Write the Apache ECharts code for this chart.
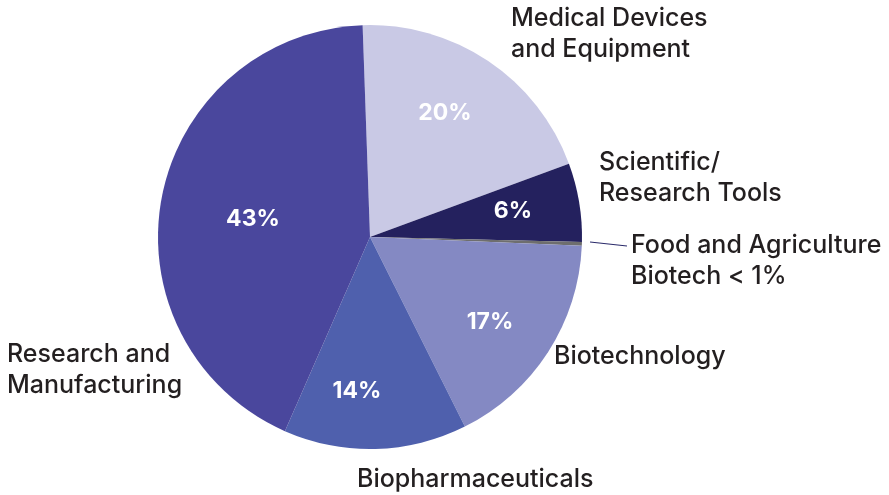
<!DOCTYPE html>
<html lang="en">
<head>
    <meta charset="UTF-8">
    <title>Sector breakdown</title>
    <script src="https://cdn.jsdelivr.net/npm/echarts@6/dist/echarts.min.js"></script>
    <style>
        html, body { margin: 0; padding: 0; background: #fff; }
    </style>
</head>
<body>
<div id="main" style="width: 889px;height:495px;"></div>
<script type="text/javascript">
    // slices, clockwise from the top
    var sectors = ['Medical Devices and Equipment', 'Scientific/Research Tools', 'Food and Agriculture Biotech',
        'Biotechnology', 'Biopharmaceuticals', 'Research and Manufacturing'];
    var shares = [20, 6, 0.3, 17, 14, 43];
    var shareLabels = ['20%', '6%', '', '17%', '14%', '43%'];
    var colors = ['#c9c9e5', '#24215e', '#6e6e6e', '#8489c3', '#4f60ad', '#4a479d'];

    // where the white % labels sit inside each slice
    var pctPos = [[445, 113], [513, 211], [0, 0], [490, 322], [357, 391], [253, 219]];

    var nameFont = '500 25px Inter';
    function nameText(x, y, txt) {
        return {
            type: 'text', left: x, top: y,
            style: { text: txt, font: nameFont, fill: '#231f20', lineHeight: 31 }
        };
    }

    var myEChart = echarts.init(document.getElementById('main'));
    var pieData = [];
    for (var i = 0; i < sectors.length; i++) {
        pieData.push({ name: sectors[i], value: shares[i], itemStyle: { color: colors[i] } });
    }
    myEChart.setOption({
        animation: false,
        series: [{
            type: 'pie',
            center: [370, 237],
            radius: 212,
            startAngle: 92,
            clockwise: true,
            data: pieData,
            itemStyle: { borderWidth: 0 },
            label: {
                show: true,
                position: 'inside',
                color: '#fff',
                fontFamily: 'Inter',
                fontWeight: 'bold',
                fontSize: 23,
                formatter: function (p) { return shareLabels[p.dataIndex]; }
            },
            labelLayout: function (p) {
                var pos = pctPos[p.dataIndex];
                return { x: pos[0], y: pos[1], align: 'center', verticalAlign: 'middle' };
            },
            labelLine: { show: false },
            emphasis: { disabled: true }
        }],
        graphic: [
            nameText(511, 3, 'Medical Devices\nand Equipment'),
            nameText(599, 147, 'Scientific/\nResearch Tools'),
            nameText(631, 230, 'Food and Agriculture\nBiotech < 1%'),
            nameText(554, 341, 'Biotechnology'),
            nameText(7, 339, 'Research and\nManufacturing'),
            nameText(357, 464, 'Biopharmaceuticals'),
            {
                type: 'line',
                shape: { x1: 590, y1: 242, x2: 627, y2: 246 },
                style: { stroke: '#2a2a6a', lineWidth: 1.2 }
            }
        ]
    });
</script>
</body>
</html>
